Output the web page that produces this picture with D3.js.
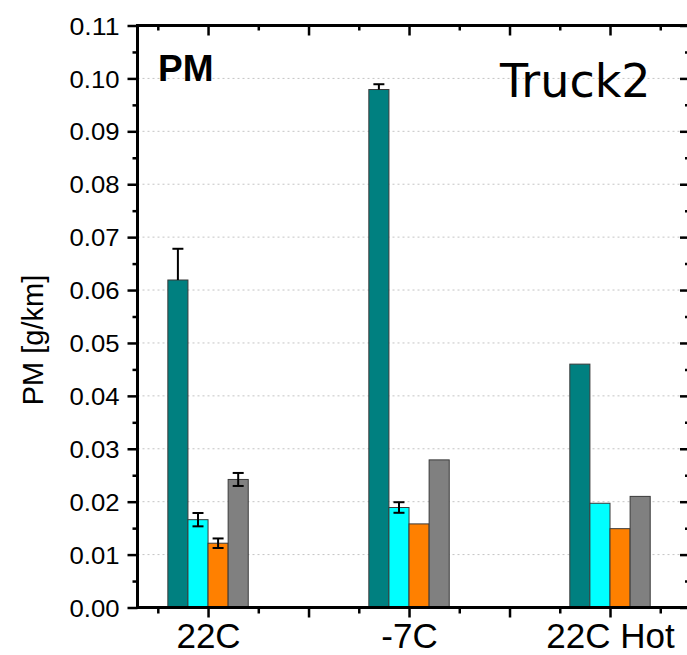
<!DOCTYPE html>
<html>
<head>
<meta charset="utf-8">
<script src="https://cdn.jsdelivr.net/npm/d3@7"></script>
<style>
  html, body { margin: 0; padding: 0; background: #fff; }
  svg { display: block; }
  text { font-family: "Liberation Sans", Arial, sans-serif; fill: #000; }
</style>
</head>
<body>
<svg id="chart" width="687" height="655"></svg>
<script>
// PM emissions per test condition, four measurement series
const categories = ["22C", "-7C", "22C Hot"];
const seriesColors = ["#008080", "#00FFFF", "#FF8000", "#808080"];

const tealValues   = [0.0619, 0.0979, 0.0460];
const tealErr      = [0.0059, 0.0010, 0];
const cyanValues   = [0.0166, 0.0189, 0.0197];
const cyanErr      = [0.00126, 0.0010, 0];
const orangeValues = [0.01215, 0.0158, 0.0149];
const orangeErr    = [0.0009, 0, 0];
const grayValues   = [0.0242, 0.0279, 0.0210];
const grayErr      = [0.00123, 0, 0];

// the first series only shows the upper arm of its error bars
const errorLowerArm = [false, true, true, true];

const yTicks = [0, 0.01, 0.02, 0.03, 0.04, 0.05, 0.06, 0.07, 0.08, 0.09, 0.10, 0.11];

const panelTitle = "PM";
const vehicleName = "Truck2";
const yAxisTitle = "PM [g/km]";

const seriesValues = [tealValues, cyanValues, orangeValues, grayValues];
const seriesErrors = [tealErr, cyanErr, orangeErr, grayErr];

const svg = d3.select("#chart");
const plotLeft = 137.5, plotRight = 690, plotTop = 25.5, plotBottom = 607.5;

const y = d3.scaleLinear().domain([0, 0.11]).range([plotBottom, plotTop]);
// category index -> pixel; half-index steps carry the in-between ticks
const x = d3.scaleLinear().domain([-0.351, 2.398]).range([plotLeft, plotRight]);
const barW = x(0.1) - x(0);

// dotted horizontal grid
svg.append("g")
  .selectAll("line")
  .data(yTicks.filter(t => t > 0 && t < 0.11))
  .join("line")
  .attr("x1", plotLeft).attr("x2", plotRight)
  .attr("y1", d => y(d)).attr("y2", d => y(d))
  .attr("stroke", "#c4c4c4")
  .attr("stroke-width", 1)
  .attr("stroke-dasharray", "2,3");

// bars, each followed by its error bars
const errW = 11;
seriesValues.forEach((vals, s) => {
  const g = svg.append("g");
  const bx = i => x(i) + (s - 2) * barW;
  g.selectAll("rect")
    .data(vals)
    .join("rect")
    .attr("x", (d, i) => bx(i))
    .attr("y", d => y(d))
    .attr("width", barW)
    .attr("height", d => y(0) - y(d))
    .attr("fill", seriesColors[s])
    .attr("stroke", "#3a3a3a")
    .attr("stroke-width", 1);

  const eg = svg.append("g").attr("stroke", "#000").attr("stroke-width", 2);
  vals.forEach((v, i) => {
    const e = seriesErrors[s][i];
    if (!e) return;
    const cx = bx(i) + barW / 2;
    const yHi = y(v + e);
    const yLo = errorLowerArm[s] ? y(v - e) : y(v);
    eg.append("line").attr("x1", cx).attr("x2", cx).attr("y1", yHi).attr("y2", yLo);
    eg.append("line").attr("x1", cx - errW / 2).attr("x2", cx + errW / 2).attr("y1", yHi).attr("y2", yHi);
    if (errorLowerArm[s]) {
      eg.append("line").attr("x1", cx - errW / 2).attr("x2", cx + errW / 2).attr("y1", yLo).attr("y2", yLo);
    }
  });
});

// axes
const yMinor = d3.range(0.005, 0.11, 0.01);
const xMajor = [0, 0.5, 1, 1.5, 2];
const xMinor = [-0.25, 0.25, 0.75, 1.25, 1.75, 2.25];

function styleAxis(g) {
  g.select(".domain").remove();
  g.selectAll(".tick line").attr("stroke", "#000").attr("stroke-width", 2.5);
}

// left
svg.append("g").attr("transform", `translate(${plotLeft},0)`)
  .call(d3.axisLeft(y).tickValues(yTicks).tickSize(10).tickPadding(8).tickFormat(d3.format(".2f")))
  .call(styleAxis)
  .call(g => g.selectAll(".tick text")
    .style("font-size", "24px")
    .attr("textLength", 50)
    .attr("lengthAdjust", "spacingAndGlyphs")
    .attr("dy", "0.36em"));
svg.append("g").attr("transform", `translate(${plotLeft},0)`)
  .call(d3.axisLeft(y).tickValues(yMinor).tickSize(5).tickFormat(""))
  .call(styleAxis);

// right (inward ticks)
svg.append("g").attr("transform", `translate(${plotRight},0)`)
  .call(d3.axisLeft(y).tickValues(yTicks).tickSize(10).tickFormat(""))
  .call(styleAxis);
svg.append("g").attr("transform", `translate(${plotRight},0)`)
  .call(d3.axisLeft(y).tickValues(yMinor).tickSize(5).tickFormat(""))
  .call(styleAxis);

// top (inward ticks)
svg.append("g").attr("transform", `translate(0,${plotTop})`)
  .call(d3.axisBottom(x).tickValues(xMajor).tickSize(10).tickFormat(""))
  .call(styleAxis);
svg.append("g").attr("transform", `translate(0,${plotTop})`)
  .call(d3.axisBottom(x).tickValues(xMinor).tickSize(5).tickFormat(""))
  .call(styleAxis);

// bottom
svg.append("g").attr("transform", `translate(0,${plotBottom})`)
  .call(d3.axisBottom(x).tickValues(xMajor).tickSize(10)
    .tickFormat(d => Number.isInteger(d) ? categories[d] : ""))
  .call(styleAxis)
  .call(g => g.selectAll(".tick text")
    .style("font-size", "35px")
    .attr("y", 0).attr("dy", 0)
    .attr("transform", "translate(0,40)"));
svg.append("g").attr("transform", `translate(0,${plotBottom})`)
  .call(d3.axisBottom(x).tickValues(xMinor).tickSize(6).tickFormat(""))
  .call(styleAxis);

// frame
svg.append("rect")
  .attr("x", plotLeft).attr("y", plotTop)
  .attr("width", plotRight - plotLeft).attr("height", plotBottom - plotTop)
  .attr("fill", "none").attr("stroke", "#000").attr("stroke-width", 3);

// titles
svg.append("text")
  .attr("transform", `translate(43,340) rotate(-90)`)
  .attr("text-anchor", "middle")
  .style("font-size", "29px")
  .text(yAxisTitle);

svg.append("text")
  .attr("x", 158).attr("y", 81)
  .style("font-size", "37px").style("font-weight", "bold")
  .text(panelTitle);

svg.append("text")
  .attr("x", 500).attr("y", 97)
  .style("font-family", "'DejaVu Sans', Verdana, sans-serif")
  .style("font-size", "46px")
  .text(vehicleName);
</script>
</body>
</html>
